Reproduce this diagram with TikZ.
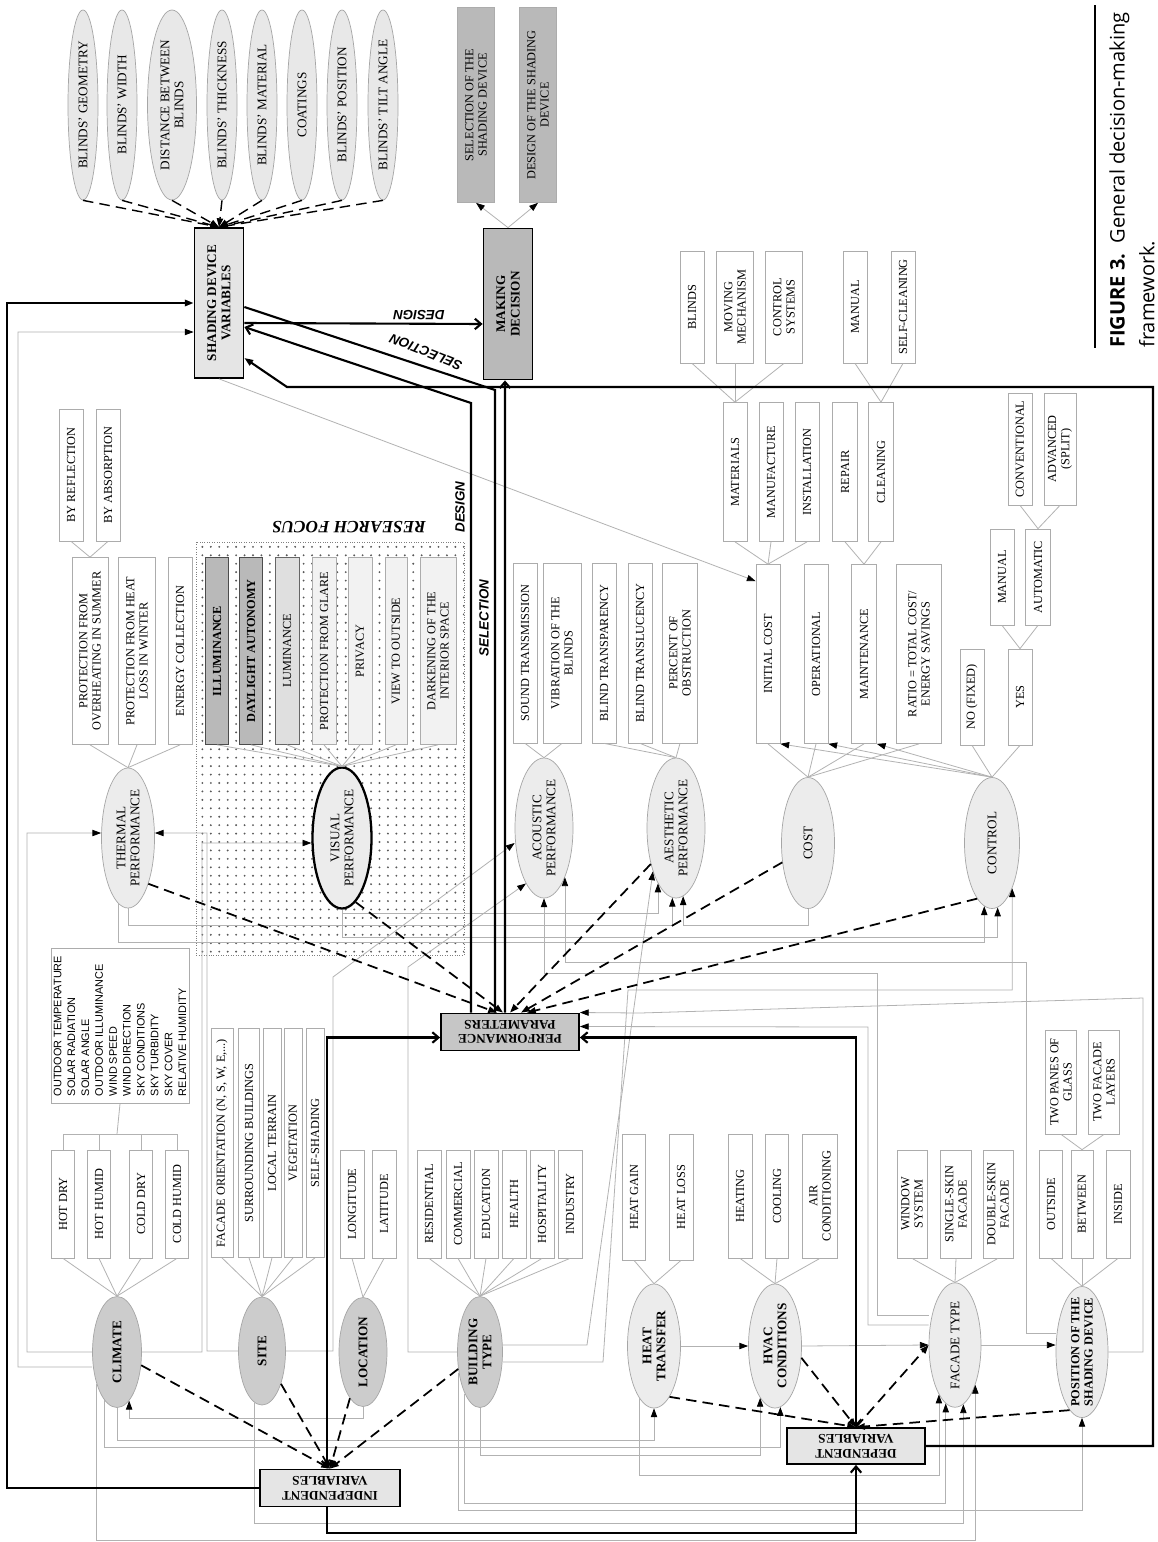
\documentclass[tikz,border=0pt]{standalone}
\usepackage{fontspec}
\setmainfont{Liberation Serif}
\newfontfamily\listfont{Liberation Sans}
\newfontfamily\capfont{Open Sans}
\usetikzlibrary{shapes.geometric, arrows.meta, patterns.meta, calc}

\newcommand{\itemfont}{\fontsize{7}{7.6}\selectfont}
\newcommand{\ellfont}{\fontsize{7.5}{8}\selectfont}
\newcommand{\keyfont}{\fontsize{7.5}{8.2}\selectfont\bfseries}

\tikzset{
  px/.style 2 args={minimum height=#1*0.02cm, minimum width=#2*0.02cm},
  item/.style={
    rectangle, draw=gray!65, fill=white, rotate=90,
    font=\itemfont, align=center, inner sep=0.5pt
  },
  focus item/.style={item, fill=gray!10},
  key item/.style={item, fill=gray!55, draw=black!70, font=\itemfont\bfseries},
  blind ell/.style={
    ellipse, draw=gray!70, fill=gray!18, rotate=90,
    font=\ellfont, align=center, inner sep=0pt
  },
  perf ell/.style={
    ellipse, draw=gray!70, fill=gray!15, rotate=90,
    font=\ellfont, align=center, inner sep=0pt
  },
  var ell/.style={perf ell, fill=gray!40, font=\ellfont\bfseries},
  main box/.style={
    rectangle, draw=black, line width=1pt, fill=gray!20,
    font=\keyfont, align=center, inner sep=1pt
  },
  flip box/.style={main box, rotate=180},
  link/.style={draw=gray!60, line width=0.45pt},
  tip/.style={arrows={-{Triangle[length=5pt, width=3.6pt, color=black]}}},
  barb/.style={arrows={-{Straight Barb[length=3.5pt, width=6pt]}}},
  barbs/.style={arrows={{Straight Barb[length=3.5pt, width=6pt]}-{Straight Barb[length=3.5pt, width=6pt]}}},
  dash link/.style={draw=black, line width=1pt, dash pattern=on 6pt off 3.5pt},
  heavy/.style={draw=black, line width=1.2pt},
  tag/.style={font=\listfont\fontsize{7.6}{8}\selectfont\bfseries\itshape, inner sep=1pt}
}

\begin{document}
\begin{tikzpicture}[x=0.02cm, y=-0.02cm]
  \fill[white] (0,0) rectangle (1158,1542);
  \useasboundingbox (0,0) rectangle (1158,1542);

  % research focus area
  \path[draw=gray, densely dotted, pattern={Dots[distance=4.8pt, radius=0.6pt]}, pattern color=black!65]
    (196,542) rectangle (464,955);
  \node (rfocus) [rotate=180, font=\bfseries\itshape\fontsize{9.8}{10}\selectfont] at (349,527) {RESEARCH FOCUS};

  % shading device and decision
  \node (sdv) [main box, rotate=90, px={49}{150}] at (219,303) {SHADING DEVICE\\VARIABLES};
  \foreach \n/\x/\w/\txt in {1/83/30/{BLINDS' GEOMETRY}, 2/122/30/{BLINDS' WIDTH},
      3/172/49/{DISTANCE BETWEEN\\BLINDS}, 4/222/30/{BLINDS' THICKNESS},
      5/262/30/{BLINDS' MATERIAL}, 6/302/30/{COATINGS},
      7/342/30/{BLINDS' POSITION}, 8/383/30/{BLINDS' TILT ANGLE}}
    \node (sg\n) [blind ell, px={\w}{190}] at (\x,105) {\txt};
  \node (md) [main box, rotate=90, fill=gray!55, px={49}{151}] at (508,304) {MAKING\\DECISION};
  \node (sel) [item, fill=gray!55, px={37}{195}] at (476,105) {SELECTION OF THE\\SHADING DEVICE};
  \node (des) [item, fill=gray!55, px={37}{195}] at (538,105) {DESIGN OF THE SHADING\\DEVICE};

  % performance parameters
  \node (therm) [perf ell, px={53}{140}] at (128,838) {THERMAL\\PERFORMANCE};
  \node (vis) [perf ell, draw=black, line width=1.3pt, px={59}{141}] at (342,838) {VISUAL\\PERFORMANCE};
  \node (acou) [perf ell, px={58}{140}] at (544,828) {ACOUSTIC\\PERFORMANCE};
  \node (aes) [perf ell, px={58}{140}] at (676,828) {AESTHETIC\\PERFORMANCE};
  \node (cost) [perf ell, px={53}{131}] at (808,843) {COST};
  \node (ctrl) [perf ell, px={55}{131}] at (992,843) {CONTROL};

  % thermal
  \node (refl) [item, px={24}{132}] at (71,475) {BY REFLECTION};
  \node (absr) [item, px={24}{132}] at (108,475) {BY ABSORPTION};
  \node (th1) [item, px={36}{187}] at (90,651) {PROTECTION FROM\\OVERHEATING IN SUMMER};
  \node (th2) [item, px={37}{187}] at (137,651) {PROTECTION FROM HEAT\\LOSS IN WINTER};
  \node (th3) [item, px={24}{187}] at (180,651) {ENERGY COLLECTION};

  % visual
  \node (vi1) [key item, px={23}{187}] at (217,651) {ILLUMINANCE};
  \node (vi2) [key item, px={23}{187}] at (251,651) {DAYLIGHT AUTONOMY};
  \node (vi3) [item, fill=gray!25, draw=black!60, px={24}{187}] at (287,651) {LUMINANCE};
  \node (vi4) [focus item, px={24}{187}] at (324,651) {PROTECTION FROM GLARE};
  \node (vi5) [focus item, px={24}{187}] at (360,651) {PRIVACY};
  \node (vi6) [focus item, px={22}{187}] at (396,651) {VIEW TO OUTSIDE};
  \node (vi7) [focus item, px={36}{187}] at (438,651) {DARKENING OF THE\\INTERIOR SPACE};

  % acoustic and aesthetic
  \node (ac1) [item, px={24}{180}] at (525,653) {SOUND TRANSMISSION};
  \node (ac2) [item, px={38}{180}] at (562,653) {VIBRATION OF THE\\BLINDS};
  \node (ae1) [item, px={24}{180}] at (604,653) {BLIND TRANSPARENCY};
  \node (ae2) [item, px={24}{180}] at (640,653) {BLIND TRANSLUCENCY};
  \node (ae3) [item, px={35}{180}] at (680,653) {PERCENT OF\\OBSTRUCTION};

  % cost
  \node (ic) [item, px={24}{179}] at (768,654) {INITIAL COST};
  \node (op) [item, px={24}{179}] at (816,654) {OPERATIONAL};
  \node (mt) [item, px={25}{179}] at (864,654) {MAINTENANCE};
  \node (ratio) [item, px={45}{179}] at (919,654) {RATIO = TOTAL COST/\\ENERGY SAVINGS};
  \node (mat) [item, px={24}{139}] at (735,472) {MATERIALS};
  \node (manu) [item, px={24}{139}] at (771,472) {MANUFACTURE};
  \node (inst) [item, px={24}{139}] at (807,472) {INSTALLATION};
  \node (rep) [item, px={25}{139}] at (845,472) {REPAIR};
  \node (cln) [item, px={25}{139}] at (881,472) {CLEANING};
  \node (mb1) [item, px={24}{112}] at (692,307) {BLINDS};
  \node (mb2) [item, px={37}{112}] at (735,307) {MOVING\\MECHANISM};
  \node (mb3) [item, px={37}{112}] at (784,307) {CONTROL\\SYSTEMS};
  \node (cl1) [item, px={24}{112}] at (855,307) {MANUAL};
  \node (cl2) [item, px={24}{112}] at (903,307) {SELF-CLEANING};

  % control
  \node (nofix) [item, px={24}{96}] at (972,697) {NO (FIXED)};
  \node (yes) [item, px={24}{96}] at (1020,697) {YES};
  \node (man) [item, px={24}{96}] at (1002,577) {MANUAL};
  \node (auto) [item, px={25}{96}] at (1038,577) {AUTOMATIC};
  \node (conv) [item, px={24}{112}] at (1020,449) {CONVENTIONAL};
  \node (adv) [item, px={32}{112}] at (1060,449) {ADVANCED\\(SPLIT)};

  % independent and dependent variables
  \node (clim) [var ell, px={49}{111}] at (117,1352) {CLIMATE};
  \node (site) [var ell, px={47}{108}] at (262,1351) {SITE};
  \node (loc) [var ell, px={48}{109}] at (363,1352) {LOCATION};
  \node (bt) [var ell, px={45}{111}] at (480,1352) {BUILDING\\TYPE};
  \node (heat) [perf ell, font=\ellfont\bfseries, px={53}{124}] at (654,1346) {HEAT\\TRANSFER};
  \node (hvac) [perf ell, font=\ellfont\bfseries, px={53}{124}] at (775,1346) {HVAC\\CONDITIONS};
  \node (fac) [perf ell, px={52}{124}] at (955,1345) {FACADE TYPE};
  \node (pos) [perf ell, font=\itemfont\bfseries, inner xsep=-6pt, px={52}{131}] at (1082,1352) {POSITION OF THE\\SHADING DEVICE};

  \node (hd) [item, px={23}{108}] at (63,1204) {HOT DRY};
  \node (hh) [item, px={23}{108}] at (99,1204) {HOT HUMID};
  \node (cd) [item, px={23}{108}] at (141,1204) {COLD DRY};
  \node (ch) [item, px={23}{108}] at (177,1204) {COLD HUMID};
  \node (clist) [item, align=left, font=\listfont\fontsize{6.2}{7.9}\selectfont, px={138}{155}] at (120,1026)
    {OUTDOOR TEMPERATURE\\SOLAR RADIATION\\SOLAR ANGLE\\OUTDOOR ILLUMINANCE\\WIND SPEED\\WIND DIRECTION\\SKY CONDITIONS\\SKY TURBIDITY\\SKY COVER\\RELATIVE HUMIDITY};
  \coordinate (cfork) at (117,1134);
  \node (si1) [item, px={22}{229}] at (222,1143) {FACADE ORIENTATION (N, S, W, E,...)};
  \node (si2) [item, px={21}{229}] at (249,1143) {SURROUNDING BUILDINGS};
  \node (si3) [item, px={18}{229}] at (272,1143) {LOCAL TERRAIN};
  \node (si4) [item, px={18}{229}] at (293,1143) {VEGETATION};
  \node (si5) [item, px={18}{229}] at (315,1143) {SELF-SHADING};
  \node (lo1) [item, px={24}{108}] at (352,1204) {LONGITUDE};
  \node (lo2) [item, px={24}{108}] at (384,1204) {LATITUDE};
  \foreach \n/\x/\txt in {1/429/RESIDENTIAL, 2/458/COMMERCIAL, 3/486/EDUCATION,
      4/514/HEALTH, 5/542/HOSPITALITY, 6/570/INDUSTRY}
    \node (bty\n) [item, px={24}{108}] at (\x,1204) {\txt};
  \node (ht1) [item, px={23}{126}] at (634,1197) {HEAT GAIN};
  \node (ht2) [item, px={24}{126}] at (681,1197) {HEAT LOSS};
  \node (hv1) [item, px={24}{124}] at (740,1196) {HEATING};
  \node (hv2) [item, px={23}{124}] at (777,1196) {COOLING};
  \node (hv3) [item, px={35}{124}] at (820,1196) {AIR\\CONDITIONING};
  \node (fa1) [item, px={30}{108}] at (912,1204) {WINDOW\\SYSTEM};
  \node (fa2) [item, px={31}{108}] at (956,1204) {SINGLE-SKIN\\FACADE};
  \node (fa3) [item, px={30}{108}] at (998,1204) {DOUBLE-SKIN\\FACADE};
  \node (po1) [item, px={23}{108}] at (1051,1204) {OUTSIDE};
  \node (po2) [item, px={22}{108}] at (1082,1204) {BETWEEN};
  \node (po3) [item, px={24}{108}] at (1118,1204) {INSIDE};
  \node (tw1) [item, px={31}{104}] at (1061,1082) {TWO PANES OF\\GLASS};
  \node (tw2) [item, px={31}{104}] at (1104,1082) {TWO FACADE\\LAYERS};

  \node (perf) [flip box, fill=gray!45, minimum width=138*0.02cm, minimum height=37*0.02cm] at (510,1032) {PERFORMANCE\\PARAMETERS};
  \node (iv) [flip box, minimum width=140*0.02cm, minimum height=37*0.02cm] at (330,1488) {INDEPENDENT\\VARIABLES};
  \node (dv) [flip box, minimum width=138*0.02cm, minimum height=36*0.02cm] at (856,1446) {DEPENDENT\\VARIABLES};

  % trees of items
  \foreach \n in {1,...,8} \draw[dash link, line width=0.8pt, tip] (sg\n.west) -- (sdv.east);
  \draw[link, tip] (md.east) -- (sel.west);
  \draw[link, tip] (md.east) -- (des.west);
  \foreach \s in {refl,absr} \draw[link] (\s.west) -- (th1.east);
  \foreach \s in {th1,th2,th3} \draw[link] (\s.west) -- (therm.east);
  \foreach \n in {1,...,7} \draw[link] (vi\n.west) -- (vis.east);
  \foreach \s in {ac1,ac2} \draw[link] (\s.west) -- (acou.east);
  \foreach \s in {ae1,ae2,ae3} \draw[link] (\s.west) -- (aes.east);
  \foreach \s in {mb1,mb2,mb3} \draw[link] (\s.west) -- (mat.east);
  \foreach \s in {cl1,cl2} \draw[link] (\s.west) -- (cln.east);
  \foreach \s in {mat,manu,inst} \draw[link] (\s.west) -- (ic.east);
  \foreach \s in {rep,cln} \draw[link] (\s.west) -- (mt.east);
  \foreach \s in {ic,op,mt,ratio} \draw[link] (cost.east) -- (\s.west);
  \foreach \s in {ic,op,mt} \draw[link, tip] (ctrl.east) -- (\s.south west);
  \foreach \s in {nofix,yes} \draw[link] (ctrl.east) -- (\s.west);
  \foreach \s in {man,auto} \draw[link] (\s.west) -- (yes.east);
  \foreach \s in {conv,adv} \draw[link] (\s.west) -- (auto.east);
  \draw[link] (clist.west) -- (cfork);
  \foreach \s in {hd,hh,cd,ch} \draw[link] (\s.east) |- (cfork);
  \foreach \s in {hd,hh,cd,ch} \draw[link] (\s.west) -- (clim.east);
  \foreach \n in {1,...,5} \draw[link] (si\n.west) -- (site.east);
  \foreach \n in {1,2} \draw[link] (lo\n.west) -- (loc.east);
  \foreach \n in {1,...,6} \draw[link] (bty\n.west) -- (bt.east);
  \foreach \n in {1,2} \draw[link] (ht\n.west) -- (heat.east);
  \foreach \n in {1,2,3} \draw[link] (hv\n.west) -- (hvac.east);
  \foreach \n in {1,2,3} \draw[link] (fa\n.west) -- (fac.east);
  \foreach \n in {1,2,3} \draw[link] (po\n.west) -- (pos.east);
  \foreach \n in {1,2} \draw[link] (tw\n.west) -- (po2.east);

  % gray routing lines
  \draw[link, tip] ([yshift=-0.3cm]clim.north) -| (18,332) -- ([yshift=-0.58cm]sdv.north);
  \draw[link, tip] (clim.north) -| (27,833) -- ([yshift=0.1cm]therm.north);
  \draw[link, tip] (clim.south) -| (202,843) -- ([yshift=-0.1cm]vis.north);
  \draw[link, tip] (site.north) -| (207,833) -- ([yshift=0.1cm]therm.south);
  \draw[link, tip] (site.south) -| (333,977) -- ([yshift=-0.3cm]acou.north);
  \draw[link, tip] (bt.north) -| (408,967) -- (acou.162);
  \draw[link, tip] ([yshift=0.14cm]bt.south) -- (587,1345) -- (aes.152);
  \draw[link, tip] ([yshift=-0.2cm]bt.south) -- (603,1362) -- (628,990) -| (ctrl.204);
  \draw[link, tip] (therm.172) |- (600,942) -| (ctrl.173);
  \draw[link, tip] (vis.west) |- (600,937) -| (ctrl.185);
  \draw[link, tip] (vis.west) |- (500,913) -| (aes.162);
  \draw[link, tip] (therm.west) |- (400,925) -| (aes.177);
  \draw[link, tip] (cost.west) |- (750,925) -| (aes.186);
  \draw[link, tip] ([yshift=0.38cm]pos.north) -| (1026,962) -| (acou.203);
  \draw[link, tip] ([yshift=0.6cm]fac.north) -| (877,973) -| (acou.west);
  \draw[link, tip] ([yshift=0.4cm]fac.north) -| (868,1027) -- ([yshift=0.11cm]perf.west);
  \draw[link, tip] (pos.south) -| (1143,998) -- (640,1013) -- ([yshift=0.39cm]perf.west);
  \draw[link, tip] (sdv.west) -- ([yshift=-0.34cm]ic.north east);
  \draw[link, tip] (loc.west) |- (250,1418) -| (clim.194);
  \draw[link, tip] (clim.west) |- (400,1440) -| (heat.west);
  \draw[link, tip] (clim.165) |- (400,1447) -| (hvac.185);
  \draw[link, tip] (bt.west) |- (600,1455) -| (hvac.164);
  \draw[link, tip] (heat.164) |- (800,1475) -| (fac.162);
  \draw[link, tip] (bt.160) |- (700,1503) -| (fac.171);
  \draw[link, tip] (bt.134) |- (800,1510) -| (pos.west);
  \draw[link, tip] (clim.148) |- (500,1540) -| (fac.207);
  \draw[link, tip] (site.172) |- (500,1523) -| (fac.188);
  \draw[link, tip] (heat.south) -- (hvac.north);
  \draw[link, tip] (hvac.south) -- (fac.north);
  \draw[link, tip] (fac.south) -- (fac.south -| pos.north);

  % dashed influences
  \foreach \s in {clim,site,loc,bt} \draw[dash link, tip] (\s) -- (iv.south);
  \draw[dash link, tip] (therm.204) -- ([xshift=-0.26cm]perf.south);
  \draw[dash link, tip] (vis.192) -- ([xshift=-0.14cm]perf.south);
  \draw[dash link, tip] (aes.145) -- (perf.south);
  \draw[dash link, tip] (cost.127) -- ([xshift=0.22cm]perf.south);
  \draw[dash link, tip] (ctrl.165) -- ([xshift=0.34cm]perf.south);
  \draw[dash link, tip] (heat.197) -- (dv.south);
  \draw[dash link, tip] (hvac.246) -- (dv.south);
  \draw[dash link, tip] (dv.south) -- (fac.north);
  \draw[dash link, tip] (pos.168) -- (dv.south);

  % heavy flows
  \draw[heavy, barb] ([xshift=-0.1cm]perf.south) -- ([xshift=-0.06cm]md.west);
  \draw[heavy] ([xshift=-0.3cm]perf.south) -- (495,390) -- ([yshift=-0.08cm]sdv.south);
  \draw[heavy, barb] ([xshift=-0.78cm]perf.south) -- (471,403) -- ([yshift=-0.48cm]sdv.south);
  \draw[heavy, barb] ([yshift=-0.4cm]sdv.south) -- ([yshift=-0.4cm]md.north);
  \draw[heavy, tip] (dv.west) -| (1153,387) -- (287,387) -- ([yshift=-1.1cm]sdv.south);
  \draw[heavy, tip] (iv.east) -| (7,303) -- (sdv.north);
  \draw[heavy, barbs] ([xshift=-0.06cm]iv.south) |- ([yshift=-0.11cm]perf.east);
  \draw[heavy, barbs] ([yshift=-0.11cm]perf.west) -| (dv.south);
  \draw[heavy, barb] ([xshift=-0.06cm]iv.north) |- (600,1533) -| (dv.north);

  % flow labels
  \node (lbdes) [tag, rotate=180] at (419,315) {DESIGN};
  \node (lbsel) [tag, rotate=158] at (426,352) {SELECTION};
  \node (lbdes2) [tag, rotate=90] at (460,507) {DESIGN};
  \node (lbsel2) [tag, rotate=90] at (484,618) {SELECTION};

  % caption
  \draw[line width=0.8pt] (1095,5) -- (1095,348);
  \node (cap) [rotate=90, anchor=north west, align=left, inner sep=0pt,
    font=\capfont\fontsize{11.4}{17}\selectfont] at (1109,348)
    {\textbf{FIGURE 3.}\ \ General decision-making\\framework.};
\end{tikzpicture}
\end{document}
